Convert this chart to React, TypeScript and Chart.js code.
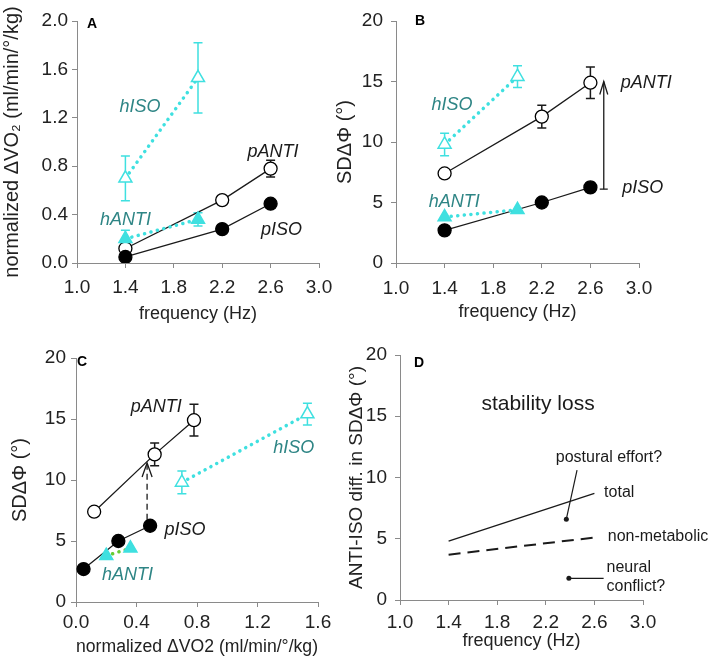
import React, { useEffect, useRef } from 'react';
import { Chart, registerables } from 'chart.js';

Chart.register(...registerables);

const FONT = "'Liberation Sans', Arial, Helvetica, sans-serif";
const CYAN = '#3fe0e0';
const TEAL = '#2e8585';
const GREEN = '#66cc33';
const AXIS = '#8a8a8a';
const INK = '#1a1a1a';

// ---------- data ----------
const freqP = [1.4, 2.2, 2.6];
const freqH = [1.4, 2.0];

const vo2PANTI = [0.12, 0.52, 0.78];
const vo2PANTIErr = [0.02, 0.03, 0.07];
const vo2PISO = [0.05, 0.28, 0.49];
const vo2PISOErr = [0.02, 0.02, 0.03];
const vo2HISO = [0.7, 1.53];
const vo2HISOErr = [0.185, 0.29];
const vo2HANTI = [0.2, 0.36];
const vo2HANTIErr = [0.07, 0.055];

const sdPANTI = [7.4, 12.1, 14.9];
const sdPANTIErr = [0.3, 0.94, 1.3];
const sdPISO = [2.7, 5.0, 6.25];
const sdPISOErr = [0.2, 0.3, 0.4];
const sdHISO = [9.8, 15.4];
const sdHISOErr = [0.93, 0.9];
const sdHANTI = [3.8, 4.4];
const sdHANTIErr = [0.2, 0.2];

const freqD = [1.4, 2.6];
const diffTotal = [4.8, 8.7];
const diffNonMetabolic = [3.7, 5.1];
const posturalPointerX = [2.457, 2.369];
const posturalPointerY = [10.6, 6.6];
const neuralPointerX = [2.39, 2.676];
const neuralPointerY = [1.77, 1.77];

const freqTicks = { min: 1.0, max: 3.0, step: 0.4 };
const vo2Ticks = { min: 0, max: 2.0, step: 0.4 };
const vo2XTicks = { min: 0, max: 1.6, step: 0.4 };
const sdTicks = { min: 0, max: 20, step: 5 };

// ---------- helpers ----------
const pts = (xs: number[], ys: number[]) => xs.map((x, i) => ({ x, y: ys[i] }));

function pSeries(label: string, xs: number[], ys: number[], errs: number[] | null, filled: boolean) {
  return {
    label,
    data: pts(xs, ys),
    errors: errs,
    errColor: INK,
    showLine: true,
    borderColor: INK,
    borderWidth: 1.3,
    pointStyle: 'circle',
    pointRadius: 6.5,
    pointHoverRadius: 6.5,
    pointBackgroundColor: filled ? '#000' : '#fff',
    pointBorderColor: '#000',
    pointBorderWidth: 1.3,
  };
}

function hSeries(label: string, xs: number[], ys: number[], errs: number[] | null, filled: boolean, lineColor = CYAN) {
  return {
    label,
    data: pts(xs, ys),
    errors: errs,
    errColor: CYAN,
    showLine: true,
    borderColor: lineColor,
    borderWidth: 3.5,
    borderDash: [0.1, 6.5],
    borderCapStyle: 'round',
    pointStyle: 'triangle',
    pointRadius: 7.5,
    pointHoverRadius: 7.5,
    pointBackgroundColor: filled ? CYAN : '#fff',
    pointBorderColor: CYAN,
    pointBorderWidth: 1.5,
  };
}

function plainLine(xs: number[], ys: number[], width: number, dash: number[], radii: number[]) {
  return {
    data: pts(xs, ys),
    showLine: true,
    borderColor: INK,
    borderWidth: width,
    borderDash: dash,
    pointRadius: radii,
    pointHoverRadius: radii,
    pointBackgroundColor: INK,
    pointBorderColor: INK,
    pointBorderWidth: 0,
  };
}

function xScale(t: any, title: string, titleSize: number, tickPad: number, titlePad: number, height: number) {
  return {
    type: 'linear',
    position: 'bottom',
    min: t.min,
    max: t.max,
    ticks: {
      stepSize: t.step,
      padding: tickPad,
      color: '#222',
      font: { family: FONT, size: 19 },
      maxRotation: 0,
      autoSkip: false,
      callback: (v: any) => Number(v).toFixed(1),
    },
    grid: { display: true, drawOnChartArea: false, drawTicks: true, tickLength: 5, color: AXIS, lineWidth: 1 },
    border: { display: true, color: AXIS, width: 1 },
    title: { display: true, text: title, color: '#222', font: { family: FONT, size: titleSize }, padding: { top: 0, bottom: titlePad } },
    afterFit: (s: any) => { s.height = height; },
  };
}

function yScale(t: any, title: string, titleSize: number, tickPad: number, titlePad: number, width: number, decimals: number) {
  return {
    type: 'linear',
    position: 'left',
    min: t.min,
    max: t.max,
    ticks: {
      stepSize: t.step,
      padding: tickPad,
      color: '#222',
      font: { family: FONT, size: 19 },
      autoSkip: false,
      callback: (v: any) => Number(v).toFixed(decimals),
    },
    grid: { display: true, drawOnChartArea: false, drawTicks: true, tickLength: 5, color: AXIS, lineWidth: 1 },
    border: { display: true, color: AXIS, width: 1 },
    title: { display: true, text: title, color: '#222', font: { family: FONT, size: titleSize }, padding: { top: titlePad, bottom: 0 } },
    afterFit: (s: any) => { s.width = width; },
  };
}

const errorBarPlugin = {
  id: 'errorBars',
  beforeDatasetsDraw(chart: any) {
    const ctx = chart.ctx;
    const xs = chart.scales.x;
    const ys = chart.scales.y;
    chart.data.datasets.forEach((ds: any) => {
      if (!ds.errors) return;
      ctx.save();
      ctx.strokeStyle = ds.errColor;
      ctx.lineWidth = 1.5;
      ds.data.forEach((p: any, i: number) => {
        const e = ds.errors[i];
        if (!e) return;
        const px = xs.getPixelForValue(p.x);
        const yTop = ys.getPixelForValue(p.y + e);
        const yBot = ys.getPixelForValue(p.y - e);
        ctx.beginPath();
        ctx.moveTo(px, yBot);
        ctx.lineTo(px, yTop);
        ctx.moveTo(px - 4.5, yBot);
        ctx.lineTo(px + 4.5, yBot);
        ctx.moveTo(px - 4.5, yTop);
        ctx.lineTo(px + 4.5, yTop);
        ctx.stroke();
      });
      ctx.restore();
    });
  },
};

type Label = { text: string; x: number; y: number; color?: string; size?: number; style?: string; align?: string };
type Arrow = { x: number; y0: number; y1: number; dash?: number[]; cap?: boolean; headW: number; headH: number };

function overlayPlugin(labels: Label[], arrows: Arrow[]) {
  return {
    id: 'overlay',
    afterDatasetsDraw(chart: any) {
      const ctx = chart.ctx;
      const xs = chart.scales.x;
      const ys = chart.scales.y;
      arrows.forEach((a) => {
        const px = xs.getPixelForValue(a.x);
        const p0 = ys.getPixelForValue(a.y0);
        const p1 = ys.getPixelForValue(a.y1);
        ctx.save();
        ctx.strokeStyle = INK;
        ctx.lineWidth = 1.3;
        ctx.setLineDash(a.dash || []);
        ctx.beginPath();
        ctx.moveTo(px, p0);
        ctx.lineTo(px, p1);
        ctx.stroke();
        ctx.setLineDash([]);
        ctx.beginPath();
        ctx.moveTo(px - a.headW, p1 + a.headH);
        ctx.lineTo(px, p1);
        ctx.lineTo(px + a.headW, p1 + a.headH);
        if (a.cap) {
          ctx.moveTo(px - 4, p0);
          ctx.lineTo(px + 4, p0);
        }
        ctx.stroke();
        ctx.restore();
      });
      labels.forEach((l) => {
        ctx.save();
        ctx.font = `${l.style || 'normal'} ${l.size || 18}px ${FONT}`;
        ctx.fillStyle = l.color || INK;
        ctx.textAlign = (l.align as any) || 'center';
        ctx.textBaseline = 'middle';
        ctx.fillText(l.text, xs.getPixelForValue(l.x), ys.getPixelForValue(l.y));
        ctx.restore();
      });
    },
  };
}

function makeConfig(o: any) {
  return {
    type: 'scatter',
    data: { datasets: o.datasets },
    options: {
      animation: false,
      responsive: false,
      events: [],
      layout: { padding: o.padding },
      plugins: { legend: { display: false }, tooltip: { enabled: false } },
      scales: { x: o.x, y: o.y },
    },
    plugins: [errorBarPlugin, overlayPlugin(o.labels, o.arrows || [])],
  };
}

const series = (s: number) => ({ size: 18, style: 'italic', color: INK });
const hLab = { size: 18, style: 'italic', color: TEAL };
const panelLab = { size: 14, style: 'bold', color: '#000' };

// ---------- panel configs ----------
const buildA = () =>
  makeConfig({
    padding: { top: 21, right: 38, left: 0, bottom: 0 },
    x: xScale(freqTicks, 'frequency (Hz)', 18, 8, 5, 67),
    y: yScale(vo2Ticks, 'normalized ΔVO₂ (ml/min/°/kg)', 20, 4, 0, 77, 1),
    datasets: [
      hSeries('hANTI', freqH, vo2HANTI, vo2HANTIErr, true),
      hSeries('hISO', freqH, vo2HISO, vo2HISOErr, false),
      pSeries('pISO', freqP, vo2PISO, vo2PISOErr, true),
      pSeries('pANTI', freqP, vo2PANTI, vo2PANTIErr, false),
    ],
    labels: [
      { text: 'hISO', x: 1.52, y: 1.29, ...hLab },
      { text: 'hANTI', x: 1.4, y: 0.355, ...hLab },
      { text: 'pANTI', x: 2.62, y: 0.92, ...series(0) },
      { text: 'pISO', x: 2.69, y: 0.27, ...series(0) },
      { text: 'A', x: 1.124, y: 1.975, ...panelLab },
    ],
  });

const buildB = () =>
  makeConfig({
    padding: { top: 21, right: 75, left: 0, bottom: 0 },
    x: xScale(freqTicks, 'frequency (Hz)', 18, 9, 7, 67),
    y: yScale(sdTicks, 'SDΔΦ (°)', 20, 8, 3, 66, 0),
    datasets: [
      hSeries('hANTI', freqH, sdHANTI, null, true),
      hSeries('hISO', freqH, sdHISO, sdHISOErr, false),
      pSeries('pISO', freqP, sdPISO, sdPISOErr, true),
      pSeries('pANTI', freqP, sdPANTI, sdPANTIErr, false),
    ],
    labels: [
      { text: 'hISO', x: 1.46, y: 13.05, ...hLab },
      { text: 'hANTI', x: 1.48, y: 5.04, ...hLab },
      { text: 'pANTI', x: 3.06, y: 14.9, ...series(0) },
      { text: 'pISO', x: 3.03, y: 6.2, ...series(0) },
      { text: 'B', x: 1.198, y: 19.96, ...panelLab },
    ],
    arrows: [{ x: 2.71, y0: 6.1, y1: 15.0, cap: true, headW: 4, headH: 13 }],
  });

const buildC = () =>
  makeConfig({
    padding: { top: 28, right: 39, left: 0, bottom: 0 },
    x: xScale(vo2XTicks, 'normalized ΔVO2 (ml/min/°/kg)', 18, 4, 2, 58),
    y: yScale(sdTicks, 'SDΔΦ (°)', 20, 5, 8, 76, 0),
    datasets: [
      hSeries('hANTI', vo2HANTI, sdHANTI, null, true, GREEN),
      hSeries('hISO', vo2HISO, sdHISO, sdHISOErr, false),
      pSeries('pISO', vo2PISO, sdPISO, null, true),
      pSeries('pANTI', vo2PANTI, sdPANTI, sdPANTIErr, false),
    ],
    labels: [
      { text: 'pANTI', x: 0.53, y: 16.0, ...series(0) },
      { text: 'pISO', x: 0.72, y: 5.9, ...series(0) },
      { text: 'hISO', x: 1.44, y: 12.6, ...hLab },
      { text: 'hANTI', x: 0.34, y: 2.2, ...hLab },
      { text: 'C', x: 0.04, y: 19.63, ...panelLab },
    ],
    arrows: [{ x: 0.47, y0: 6.75, y1: 11.4, dash: [6, 4], headW: 5, headH: 14 }],
  });

const buildD = () =>
  makeConfig({
    padding: { top: 25, right: 71, left: 0, bottom: 0 },
    x: xScale(freqTicks, 'frequency (Hz)', 18, 6, 8, 60),
    y: yScale(sdTicks, 'ANTI-ISO diff. in SDΔΦ (°)', 19, 8, 15, 70, 0),
    datasets: [
      plainLine(freqD, diffTotal, 1.3, [], [0, 0]),
      plainLine(freqD, diffNonMetabolic, 2, [12, 7], [0, 0]),
      plainLine(posturalPointerX, posturalPointerY, 1.2, [], [0, 2.5]),
      plainLine(neuralPointerX, neuralPointerY, 1.2, [], [2.5, 0]),
    ],
    labels: [
      { text: 'stability loss', x: 2.136, y: 16.0, size: 21, color: INK },
      { text: 'postural effort?', x: 2.72, y: 11.6, size: 16, color: INK },
      { text: 'total', x: 2.68, y: 8.73, size: 16, color: INK, align: 'left' },
      { text: 'non-metabolic', x: 2.71, y: 5.14, size: 16, color: INK, align: 'left' },
      { text: 'neural', x: 2.7, y: 2.61, size: 16, color: INK, align: 'left' },
      { text: 'conflict?', x: 2.7, y: 1.06, size: 16, color: INK, align: 'left' },
      { text: 'D', x: 1.156, y: 19.35, ...panelLab },
    ],
  });

function Panel({ left, top, width, height, build }: any) {
  const ref = useRef<HTMLCanvasElement>(null);
  useEffect(() => {
    const chart = new Chart(ref.current as HTMLCanvasElement, build() as any);
    return () => chart.destroy();
  }, []);
  return (
    <div style={{ position: 'absolute', left, top, width, height }}>
      <canvas ref={ref} width={width} height={height} style={{ display: 'block', width, height }} />
    </div>
  );
}

export default function App() {
  return (
    <div style={{ position: 'absolute', left: 0, top: 0, width: 714, height: 660, background: '#fff' }}>
      <Panel left={0} top={0} width={357} height={330} build={buildA} />
      <Panel left={330} top={0} width={384} height={330} build={buildB} />
      <Panel left={0} top={330} width={357} height={330} build={buildC} />
      <Panel left={330} top={330} width={384} height={330} build={buildD} />
    </div>
  );
}
